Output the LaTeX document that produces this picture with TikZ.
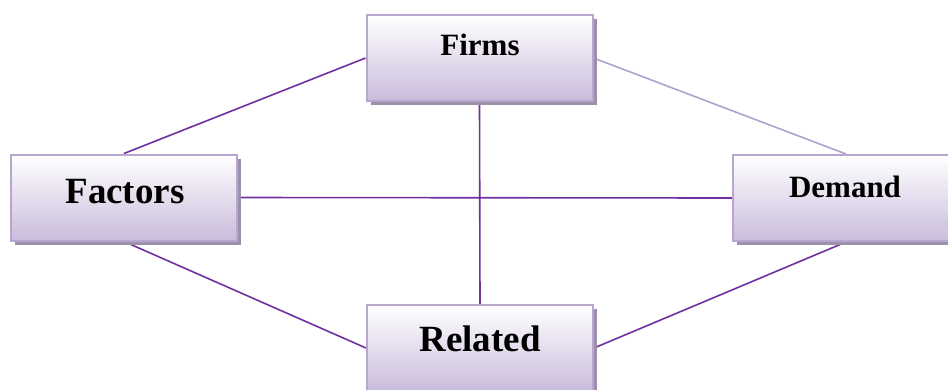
\documentclass[tikz,border=0pt]{standalone}
\usepackage{fontspec}
\setmainfont{Liberation Serif}
\usetikzlibrary{shadows,backgrounds}
\definecolor{boxborder}{RGB}{184,166,208}
\definecolor{boxbottom}{RGB}{202,188,220}
\definecolor{shadowc}{RGB}{155,145,170}
\definecolor{linedark}{RGB}{112,48,160}
\definecolor{linelight}{RGB}{176,160,204}
\tikzset{
  box/.style={draw=boxborder, line width=2pt, top color=white, bottom color=boxbottom,
    minimum width=226pt, minimum height=86pt, inner sep=0pt,
    drop shadow={shadow xshift=4pt, shadow yshift=-4pt, fill=shadowc, opacity=1}},
  lbl/.style={font=\bfseries, anchor=base, inner sep=0pt},
  conn/.style={draw=linedark, line width=1.6pt},
  connlight/.style={draw=linelight, line width=1.6pt}
}
\begin{document}
\begin{tikzpicture}[x=1pt,y=-1pt]
\useasboundingbox (0,0) rectangle (948,389);
\node[box] (firms) at (479.5,58) {};
\node[box] (factors) at (124,197.5) {};
\node[box] (demand) at (846,198) {};
\node[box] (related) at (480,348) {};
\node[lbl, font=\bfseries\fontsize{31}{31}\selectfont] (tfirms) at (480,55) {Firms};
\node[lbl, font=\bfseries\fontsize{37}{37}\selectfont] (tfactors) at (125,203) {Factors};
\node[lbl, font=\bfseries\fontsize{31}{31}\selectfont] (tdemand) at (845,197) {Demand};
\node[lbl, font=\bfseries\fontsize{37}{37}\selectfont] (trelated) at (480,351) {Related};
\begin{scope}[on background layer]
\draw[conn] (firms.west) -- (factors.north);
\draw[connlight] (firms.east) -- (demand.north);
\draw[conn] (firms.south) -- (related.north);
\draw[conn] (factors.east) -- (demand.west);
\draw[conn] (factors.south) -- (related.west);
\draw[conn] (related.east) -- (demand.south);
\end{scope}
\end{tikzpicture}
\end{document}
